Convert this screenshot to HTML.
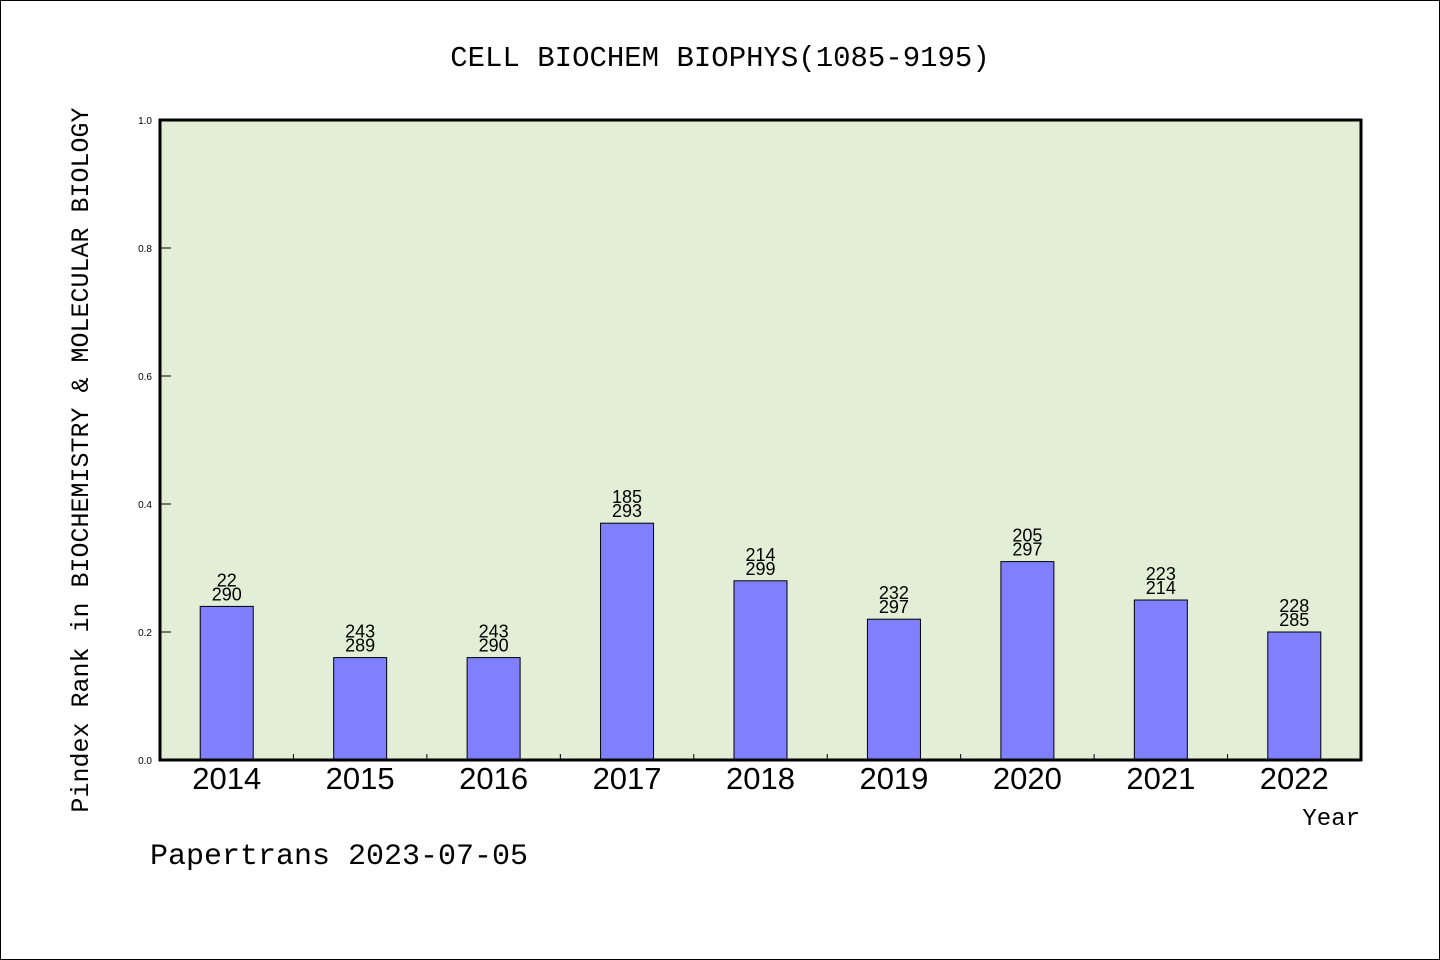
<!DOCTYPE html>
<html><head><meta charset="utf-8"><style>
body{margin:0;background:#fff}
svg{display:block}
text{font-family:"Liberation Mono","WenQuanYi Zen Hei",monospace;fill:#000}
.sans{font-family:"Liberation Sans","WenQuanYi Zen Hei",sans-serif}
</style></head><body>
<svg id="chart" width="1440" height="960" xmlns="http://www.w3.org/2000/svg">
<rect x="0.5" y="0.5" width="1439" height="959" fill="#fff" stroke="#000"/>
<text x="720" y="66" font-size="29" text-anchor="middle">CELL BIOCHEM BIOPHYS(1085-9195)</text>
<rect x="160" y="120" width="1201" height="640" fill="#e2efd6"/>
<g id="bars"></g>
<rect x="160" y="120" width="1201" height="640" fill="none" stroke="#000" stroke-width="3"/>
<text transform="translate(88,460) rotate(-90)" font-size="25" text-anchor="middle">Pindex Rank in BIOCHEMISTRY &amp; MOLECULAR BIOLOGY</text>
<text x="1360" y="825" font-size="24" text-anchor="end">Year</text>
<text x="150" y="864" font-size="30">Papertrans 2023-07-05</text>
</svg>
<script>
const years=["2014","2015","2016","2017","2018","2019","2020","2021","2022"];
const values=[0.24,0.16,0.16,0.37,0.28,0.22,0.31,0.25,0.20];
const ranks=["22","243","243","185","214","232","205","223","228"];
const totals=["290","289","290","293","299","297","297","214","285"];
const yTicks=[0,0.2,0.4,0.6,0.8,1.0];
const yTickLabels=["0.0","0.2","0.4","0.6","0.8","1.0"];
const X0=160,W=1201,Y0=760,H=640;
const step=W/years.length;
const xc=i=>X0+step*(i+0.5);
const ys=v=>Y0-v*H;
const NS="http://www.w3.org/2000/svg";
const g=document.getElementById('bars');
function mk(t,a){const e=document.createElementNS(NS,t);for(const k in a)e.setAttribute(k,a[k]);return e;}
yTicks.forEach((v,i)=>{
 const l=mk('line',{x1:X0,x2:X0+11,y1:ys(v),y2:ys(v),stroke:'#000','stroke-width':1});
 
 
 g.appendChild(l);
 const t=mk('text',{x:X0-8,y:ys(v)+4,'font-size':10,'text-anchor':'end',class:'sans'});
 
 
 t.textContent=yTickLabels[i];g.appendChild(t);
});
for(let i=1;i<years.length;i++){
 const l=mk('line',{x1:X0+step*i,x2:X0+step*i,y1:Y0,y2:Y0-6,stroke:'#000','stroke-width':1});
 
 
 g.appendChild(l);
}
years.forEach((y,i)=>{
 const bw=53,top=ys(values[i]);
 const r=mk('rect',{x:xc(i)-bw/2,y:top,width:bw,height:Y0-top,fill:'#8080ff',stroke:'#000','stroke-width':1});
 
 
 g.appendChild(r);
 const a=mk('text',{x:xc(i),y:top-20,'font-size':18,'text-anchor':'middle',class:'sans'});
 
 
 a.textContent=ranks[i];g.appendChild(a);
 const b=mk('text',{x:xc(i),y:top-6,'font-size':18,'text-anchor':'middle',class:'sans'});
 
 
 b.textContent=totals[i];g.appendChild(b);
 const t=mk('text',{x:xc(i),y:789,'font-size':31,'text-anchor':'middle',class:'sans'});
 
 
 t.textContent=y;g.appendChild(t);
});
</script>
</body></html>
